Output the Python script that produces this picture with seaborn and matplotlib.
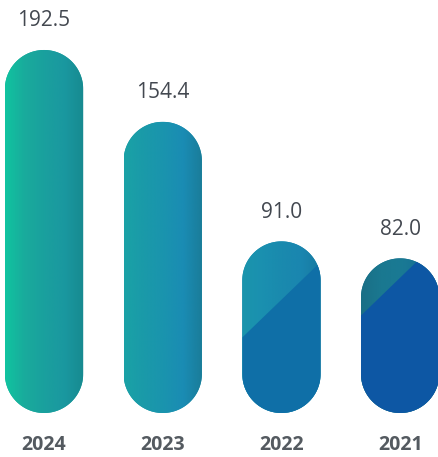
import numpy as np
import pandas as pd
import matplotlib
matplotlib.use("Agg")
import matplotlib.pyplot as plt
import seaborn as sns
from matplotlib.patches import Polygon
from matplotlib.colors import LinearSegmentedColormap

years = ["2024", "2023", "2022", "2021"]
values = [192.5, 154.4, 91.0, 82.0]
value_labels = ["192.5", "154.4", "91.0", "82.0"]

# style: base colour, horizontal gradient stops, diagonal overlay colour and split fractions
base_colors = ["#1aa89c", "#1b96aa", "#1a8cb0", "#17708e"]
grad_stops = [
    ["#10c4a0", "#19ab9c", "#1aa09e", "#1a98a0", "#178a90"],
    ["#1aa2a6", "#1a9aa9", "#1a94ae", "#1a8cb4", "#1a7c98"],
    ["#1b95ac", "#1a90b0", "#1a8aae", "#1a86b0", "#177aa0"],
    ["#1a6f86", "#1a7890", "#1a7a94", "#177294", "#156890"],
]
overlay_colors = [None, None, "#0f6fa7", "#0d57a4"]
overlay_split = [None, None, (0.44, 0.88), (0.63, 1.12)]

sns.set_theme(style="white")
plt.rcParams["font.family"] = ["Open Sans", "DejaVu Sans"]

df = pd.DataFrame({"year": years, "value": values})

fig = plt.figure(figsize=(4.38, 4.57), dpi=100)
fig.patch.set_facecolor("white")
ax = fig.add_axes([0, 44 / 457, 1, 413 / 457])
sns.barplot(data=df, x="year", y="value", hue="year", order=years,
            palette=base_colors, width=0.66, legend=False, ax=ax,
            saturation=1)
xlim = (-0.371, 3.319)
ylim = (0, 219)
ax.set_xlim(*xlim)
ax.set_ylim(*ylim)
fig.canvas.draw()

x_per_px = (xlim[1] - xlim[0]) / (ax.bbox.width)
y_per_px = (ylim[1] - ylim[0]) / (ax.bbox.height)
aspect = y_per_px / x_per_px


def pill(x0, w, h):
    rx = w / 2
    ry = rx * aspect
    cx = x0 + rx
    t = np.linspace(0, np.pi, 80)
    top = np.column_stack([cx + rx * np.cos(t), h - ry + ry * np.sin(t)])
    t2 = np.linspace(np.pi, 2 * np.pi, 80)
    bot = np.column_stack([cx + rx * np.cos(t2), ry + ry * np.sin(t2)])
    return np.vstack([top, bot])


bars = list(ax.patches)
for i, p in enumerate(bars):
    x0, w, h = p.get_x(), p.get_width(), p.get_height()
    shape = Polygon(pill(x0, w, h), closed=True, transform=ax.transData,
                    facecolor="none", edgecolor="none")
    ax.add_patch(shape)
    p.set_clip_path(shape)
    p.set_edgecolor("none")
    cmap = LinearSegmentedColormap.from_list("g%d" % i, grad_stops[i])
    im = ax.imshow(np.linspace(0, 1, 256).reshape(1, -1), aspect="auto",
                   extent=(x0, x0 + w, 0, h), cmap=cmap, zorder=3,
                   interpolation="bilinear")
    im.set_clip_path(shape)
    if overlay_colors[i] is not None:
        fl, fr = overlay_split[i]
        poly = Polygon([(x0, -5), (x0, fl * h), (x0 + w, fr * h), (x0 + w, -5)],
                       closed=True, facecolor=overlay_colors[i],
                       edgecolor="none", zorder=4)
        ax.add_patch(poly)
        poly.set_clip_path(shape)
    ax.annotate(value_labels[i], (x0 + w / 2, h), xytext=(0, 21),
                textcoords="offset points", ha="center", va="center",
                fontsize=15, color="#434850", zorder=6)

ax.set_xlim(*xlim)
ax.set_ylim(*ylim)
for s in ax.spines.values():
    s.set_visible(False)
ax.set_yticks([])
ax.set_xlabel("")
ax.set_ylabel("")
ax.tick_params(axis="x", length=0, pad=16)
for lab in ax.get_xticklabels():
    lab.set_fontweight("bold")
    lab.set_fontsize(14)
    lab.set_color("#545a60")
ax.set_facecolor("white")

fig.savefig("out.png", dpi=100)
